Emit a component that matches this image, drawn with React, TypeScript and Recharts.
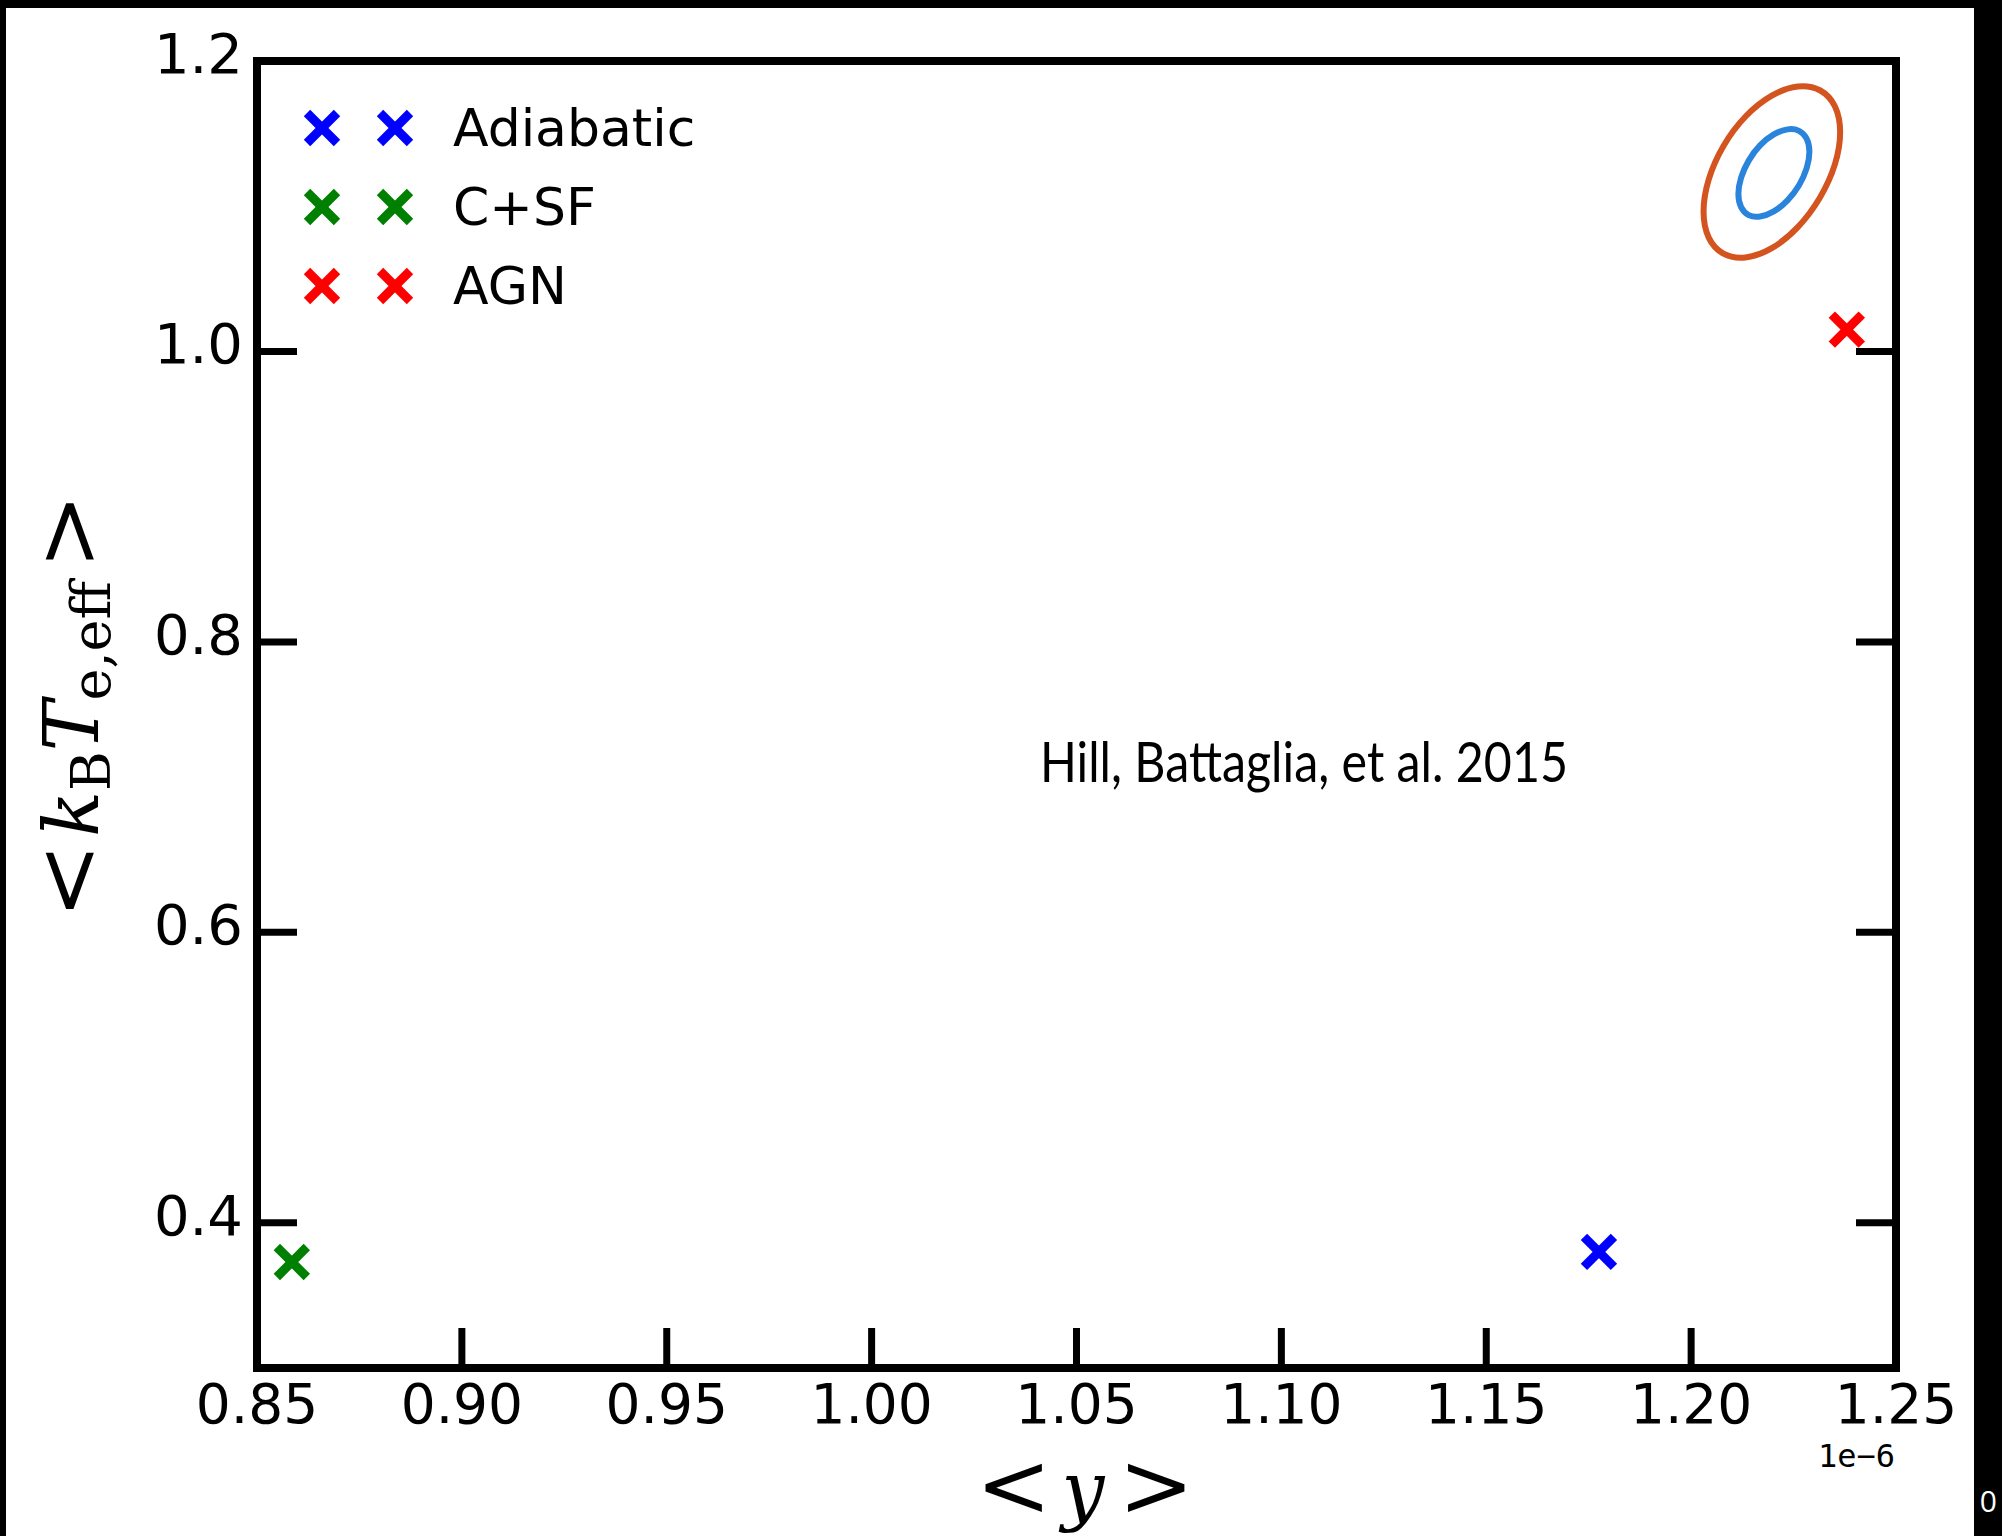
import React from 'react';
import {
  ComposedChart,
  XAxis,
  YAxis,
  Scatter,
  Line,
  ReferenceArea,
  Legend,
  Customized,
} from 'recharts';

// <y> in units of 1e-6, <kB Te,eff> in keV
const X_TICKS = [0.85, 0.9, 0.95, 1.0, 1.05, 1.1, 1.15, 1.2, 1.25];
const Y_TICKS = [0.4, 0.6, 0.8, 1.0, 1.2];

const SERIES_NAMES = ['Adiabatic', 'C+SF', 'AGN'];
const SERIES_COLORS = ['#0000ff', '#008000', '#ff0000'];

const adiabatic = [{ x: 1.1775, y: 0.38 }];
const csf = [{ x: 0.8585, y: 0.373 }];
const agn = [{ x: 1.238, y: 1.015 }];

const outerX = [1.2368, 1.2355, 1.2317, 1.2262, 1.2197, 1.2131, 1.2076, 1.2039, 1.2026, 1.2039, 1.2076, 1.2131, 1.2197, 1.2262, 1.2317, 1.2355];
const outerY = [1.1516, 1.1289, 1.1054, 1.0846, 1.0697, 1.0632, 1.0659, 1.0772, 1.0956, 1.1184, 1.142, 1.1628, 1.1775, 1.184, 1.1813, 1.17];
const innerX = [1.2291, 1.2284, 1.2265, 1.2236, 1.2202, 1.2167, 1.2139, 1.212, 1.2113, 1.212, 1.2139, 1.2167, 1.2202, 1.2236, 1.2265, 1.2284];
const innerY = [1.1379, 1.1263, 1.1143, 1.1035, 1.0957, 1.0921, 1.0931, 1.0988, 1.108, 1.1196, 1.1316, 1.1424, 1.1501, 1.1537, 1.1527, 1.147];

const outerContour = outerX.map((x, i) => ({ x, y: outerY[i] }));
const innerContour = innerX.map((x, i) => ({ x, y: innerY[i] }));

const TICK_LEN = 40;
const LW = 7;
const SPINE_W = 8;
const TICK_FONT = 'DejaVu Sans, sans-serif';

function XMark({ cx, cy, color }: { cx: number; cy: number; color: string }) {
  const h = 15;
  return (
    <g stroke={color} strokeWidth={9}>
      <line x1={cx - h} y1={cy - h} x2={cx + h} y2={cy + h} />
      <line x1={cx - h} y1={cy + h} x2={cx + h} y2={cy - h} />
    </g>
  );
}

const BottomTick = (props: any) => {
  const { x, y, payload } = props;
  return (
    <g>
      <line x1={x} y1={y} x2={x} y2={y - TICK_LEN} stroke="#000" strokeWidth={LW} />
      <text x={x} y={y + 55} textAnchor="middle" fontFamily={TICK_FONT} fontSize={55} fill="#000">
        {Number(payload.value).toFixed(2)}
      </text>
    </g>
  );
};

const TopTick = (props: any) => {
  const { x, y } = props;
  return <line x1={x} y1={y} x2={x} y2={y + TICK_LEN} stroke="#000" strokeWidth={LW} />;
};

const LeftTick = (props: any) => {
  const { x, y, payload } = props;
  return (
    <g>
      <line x1={x} y1={y} x2={x + TICK_LEN} y2={y} stroke="#000" strokeWidth={LW} />
      <text x={x - 14} y={y + 12} textAnchor="end" fontFamily={TICK_FONT} fontSize={56} fill="#000">
        {Number(payload.value).toFixed(1)}
      </text>
    </g>
  );
};

const RightTick = (props: any) => {
  const { x, y } = props;
  return <line x1={x} y1={y} x2={x - TICK_LEN} y2={y} stroke="#000" strokeWidth={LW} />;
};

const renderLegend = (props: any) => {
  const names = (props.payload || [])
    .map((p: any) => p.value)
    .filter((v: string) => SERIES_NAMES.includes(v))
    .sort((a: string, b: string) => SERIES_NAMES.indexOf(a) - SERIES_NAMES.indexOf(b));
  return (
    <div style={{ fontFamily: TICK_FONT, fontSize: 52, color: '#000' }}>
      {names.map((name: string) => {
        const color = SERIES_COLORS[SERIES_NAMES.indexOf(name)];
        return (
          <div key={name} style={{ display: 'flex', alignItems: 'center', height: 79 }}>
            <svg width={150} height={40} style={{ display: 'block' }}>
              <XMark cx={32} cy={20} color={color} />
              <XMark cx={105} cy={20} color={color} />
            </svg>
            <span style={{ marginLeft: 13, lineHeight: '52px', whiteSpace: 'nowrap' }}>{name}</span>
          </div>
        );
      })}
    </div>
  );
};

const Texts = () => (
  <g>
    {/* y axis label */}
    <text
      x={98}
      y={706}
      transform="rotate(-90, 98, 706)"
      textAnchor="middle"
      fontFamily="DejaVu Serif, serif"
      fontSize={76}
      fill="#000"
    >
      <tspan fontSize={90}>&lt;</tspan>
      <tspan fontStyle="italic" dx={6}>k</tspan>
      <tspan fontSize={54} dy={12}>B</tspan>
      <tspan fontStyle="italic" dy={-12}>T</tspan>
      <tspan fontSize={54} dy={12}>e,eff</tspan>
      <tspan fontSize={90} dy={-12} dx={12}>&gt;</tspan>
    </text>
    {/* x axis label */}
    <text x={1085} y={1516} textAnchor="middle" fontFamily="DejaVu Serif, serif" fontSize={76} fill="#000">
      <tspan fontSize={90}>&lt;</tspan>
      <tspan fontStyle="italic" dx={10}>y</tspan>
      <tspan fontSize={90} dx={14}>&gt;</tspan>
    </text>
    <text x={1895} y={1467} textAnchor="end" fontFamily="DejaVu Sans Mono, monospace" fontSize={32} fill="#000">
      1e−6
    </text>
    <text
      x={1040}
      y={782}
      fontFamily="Lato, sans-serif"
      fontSize={56}
      fill="#000"
      textLength={528}
      lengthAdjust="spacingAndGlyphs"
    >
      Hill, Battaglia, et al. 2015
    </text>
  </g>
);

export default function App() {
  return (
    <div style={{ position: 'absolute', left: 0, top: 0, width: 2002, height: 1536, background: '#000', overflow: 'hidden' }}>
      <div
        style={{
          position: 'absolute',
          right: 5,
          top: 1486,
          color: '#fff',
          fontFamily: 'Open Sans, sans-serif',
          fontSize: 30,
          lineHeight: '30px',
        }}
      >
        10
      </div>
      <div style={{ position: 'absolute', left: 6, top: 8, width: 1968, height: 1528, background: '#fff' }} />
      <div style={{ position: 'absolute', left: 0, top: 0 }}>
        <ComposedChart width={2002} height={1536} margin={{ top: 60, right: 105, bottom: 167, left: 256 }}>
          <XAxis
            xAxisId="b"
            dataKey="x"
            type="number"
            domain={[0.85, 1.25]}
            ticks={X_TICKS}
            allowDataOverflow
            height={1}
            axisLine={false}
            tickLine={false}
            tickSize={0}
            tickMargin={0}
            tick={<BottomTick />}
            interval={0}
          />
          <XAxis
            xAxisId="t"
            orientation="top"
            type="number"
            domain={[0.85, 1.25]}
            ticks={X_TICKS}
            allowDataOverflow
            height={1}
            axisLine={false}
            tickLine={false}
            tickSize={0}
            tickMargin={0}
            tick={<TopTick />}
            interval={0}
          />
          <YAxis
            yAxisId="l"
            dataKey="y"
            type="number"
            domain={[0.3, 1.2]}
            ticks={Y_TICKS}
            allowDataOverflow
            width={1}
            axisLine={false}
            tickLine={false}
            tickSize={0}
            tickMargin={0}
            tick={<LeftTick />}
            interval={0}
          />
          <YAxis
            yAxisId="r"
            orientation="right"
            type="number"
            domain={[0.3, 1.2]}
            ticks={Y_TICKS}
            allowDataOverflow
            width={1}
            axisLine={false}
            tickLine={false}
            tickSize={0}
            tickMargin={0}
            tick={<RightTick />}
            interval={0}
          />
          <ReferenceArea
            xAxisId="b"
            yAxisId="l"
            x1={0.85}
            x2={1.25}
            y1={0.3}
            y2={1.2}
            fill="none"
            fillOpacity={0}
            stroke="#000"
            strokeWidth={SPINE_W}
            ifOverflow="visible"
          />
          <Line
            xAxisId="b"
            yAxisId="l"
            data={outerContour}
            dataKey="y"
            type="basisClosed"
            stroke="#d4541f"
            strokeWidth={6}
            dot={false}
            activeDot={false}
            legendType="none"
            isAnimationActive={false}
          />
          <Line
            xAxisId="b"
            yAxisId="l"
            data={innerContour}
            dataKey="y"
            type="basisClosed"
            stroke="#2b84db"
            strokeWidth={6}
            dot={false}
            activeDot={false}
            legendType="none"
            isAnimationActive={false}
          />
          {[adiabatic, csf, agn].map((d, i) => (
            <Scatter
              key={SERIES_NAMES[i]}
              name={SERIES_NAMES[i]}
              xAxisId="b"
              yAxisId="l"
              data={d}
              dataKey="y"
              fill={SERIES_COLORS[i]}
              shape={(p: any) => <XMark cx={p.cx} cy={p.cy} color={SERIES_COLORS[i]} />}
              isAnimationActive={false}
            />
          ))}
          <Legend
            layout="horizontal"
            verticalAlign="middle"
            align="center"
            content={renderLegend}
            wrapperStyle={{ left: 290, top: 88, width: 'auto', height: 'auto' }}
          />
          <Customized component={Texts} />
        </ComposedChart>
      </div>
    </div>
  );
}
